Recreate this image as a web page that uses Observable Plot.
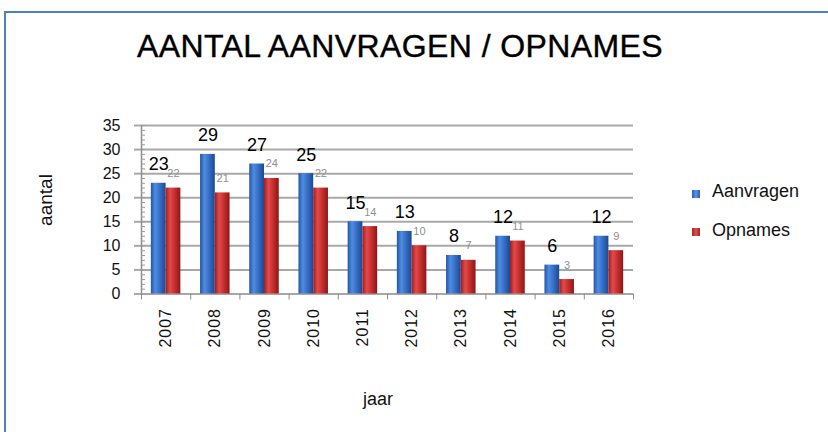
<!DOCTYPE html>
<html>
<head>
<meta charset="utf-8">
<script src="https://cdn.jsdelivr.net/npm/d3@7"></script>
<script src="https://cdn.jsdelivr.net/npm/@observablehq/plot@0.6"></script>
<style>
  body { margin: 0; background: #fff; font-family: "Liberation Sans", Arial, sans-serif; }
  #wrap { position: relative; width: 828px; height: 432px; overflow: hidden; background: #fff; }
  #border { position: absolute; left: 4px; top: 11px; width: 840px; height: 440px;
            border-top: 2px solid #4f81bd; border-left: 2px solid #4f81bd; }
  #chart { position: absolute; left: 0; top: 0; }
  .lbl { position: absolute; white-space: nowrap; color: #111; }
  #title { left: 0; width: 800px; top: 30px; text-align: center; font-size: 32px; line-height: 32px;
           letter-spacing: 0.4px; color: #000; -webkit-text-stroke: 0.4px #000; }
  #xlabel { left: 328px; width: 100px; top: 390px; text-align: center; font-size: 18px; line-height: 18px; }
  #ylabel { left: 45px; top: 200px; width: 100px; text-align: center; font-size: 19px; line-height: 19px;
            transform: translate(-50%, -50%) rotate(-90deg); }
  .leg { left: 712px; font-size: 18px; line-height: 18px; }
  .sw { position: absolute; width: 8px; height: 8px; left: 692px; }
  g[aria-label="x-axis tick label"] text { letter-spacing: 1px; }
</style>
</head>
<body>
<div id="wrap">
  <div id="border"></div>
  <div id="chart"></div>
  <div class="lbl" id="title">AANTAL AANVRAGEN / OPNAMES</div>
  <div class="lbl" id="ylabel">aantal</div>
  <div class="lbl" id="xlabel">jaar</div>
  <div class="sw" id="sw1" style="top:190px;background:linear-gradient(90deg,#2a5eb0,#5a94e2,#2a5eb0);"></div>
  <div class="lbl leg" id="leg1" style="top:182px;">Aanvragen</div>
  <div class="sw" id="sw2" style="top:228px;background:linear-gradient(90deg,#a82226,#e0504f,#a82226);"></div>
  <div class="lbl leg" id="leg2" style="top:221px;">Opnames</div>
</div>
<script>
// ---- data ----
const years = ["2007","2008","2009","2010","2011","2012","2013","2014","2015","2016"];
const aanvragen = [23, 29, 27, 25, 15, 13, 8, 12, 6, 12];
const opnames   = [22, 21, 24, 22, 14, 10, 7, 11, 3, 9];
const yTicks = [0, 5, 10, 15, 20, 25, 30, 35];
const minorTicks = d3.range(0, 36);

const rows = years.map((y, i) => ({year: y, aanvragen: aanvragen[i], opnames: opnames[i]}));

// ---- layout ----
const W = 828, H = 432;
const mL = 141, mR = 195, mT = 125, mB = 138.5;
const padIn = 0.4, padOut = 0.2;
const plotW = W - mL - mR;
const step = plotW / (years.length - padIn + 2 * padOut);
const bw = step * (1 - padIn);

const gridColor = "#a8a8a8";

const svg = Plot.plot({
  width: W, height: H,
  marginLeft: mL, marginRight: mR, marginTop: mT, marginBottom: mB,
  style: {fontFamily: "'Liberation Sans', Arial, sans-serif", color: "#111", background: "transparent"},
  x: {domain: years, paddingInner: padIn, paddingOuter: padOut, round: false, label: null},
  y: {domain: [0, 35], label: null},
  marks: [
    // gridlines
    Plot.ruleY(yTicks, {stroke: gridColor, strokeWidth: 2}),
    // y axis line
    Plot.ruleX([years[0]], {dx: -step / 2, y1: 0, y2: 35, stroke: "#8c8c8c", strokeWidth: 1.5}),
    // minor ticks (inside)
    Plot.tickY(minorTicks, {y: d => d, insetRight: plotW - 4, stroke: "#9a9a9a", strokeWidth: 1}),
    // major ticks extending left
    Plot.axisY(yTicks, {tickSize: 7, text: null, stroke: gridColor, strokeWidth: 2}),
    Plot.axisY(yTicks, {tickSize: 0, tickPadding: 21, fontSize: 16, fill: "#111"}),
    // x axis ticks at band boundaries
    Plot.axisX(years, {tickSize: 6, dx: -step / 2, text: null, stroke: "#8c8c8c"}),
    Plot.axisX(years.slice(-1), {tickSize: 6, dx: step / 2, text: null, stroke: "#8c8c8c"}),
    Plot.axisX({tickSize: 0, tickPadding: 14, tickRotate: -90, fontSize: 16, fill: "#111", label: null}),
    // bars
    Plot.barY(rows, {x: "year", y: "aanvragen", insetRight: bw / 2, fill: "url(#gBlue)"}),
    Plot.barY(rows, {x: "year", y: "opnames", insetLeft: bw / 2, fill: "url(#gRed)"}),
    // value labels
    Plot.text(rows, {x: "year", y: "aanvragen", text: d => String(d.aanvragen), dx: -bw / 4, dy: -13,
                     lineAnchor: "bottom", fontSize: 18, fill: "#000"}),
    Plot.text(rows, {x: "year", y: "opnames", text: d => String(d.opnames), dx: bw / 4, dy: -11,
                     lineAnchor: "bottom", fontSize: 11, fill: "#8f8f8f"})
  ]
});

// gradients to mimic the cylinder-like shading
const defs = d3.select(svg).insert("defs", ":first-child");
function grad(id, stops) {
  const g = defs.append("linearGradient").attr("id", id)
    .attr("x1", "0%").attr("x2", "100%").attr("y1", "0%").attr("y2", "0%");
  stops.forEach(([o, c]) => g.append("stop").attr("offset", o).attr("stop-color", c));
}
grad("gBlue", [["0%", "#2456a6"], ["30%", "#4f8ce0"], ["55%", "#3a74cc"], ["100%", "#1d4891"]]);
grad("gRed", [["0%", "#a01c20"], ["30%", "#e04b4a"], ["55%", "#cc3433"], ["100%", "#8e1618"]]);

document.getElementById("chart").appendChild(svg);
</script>
</body>
</html>
